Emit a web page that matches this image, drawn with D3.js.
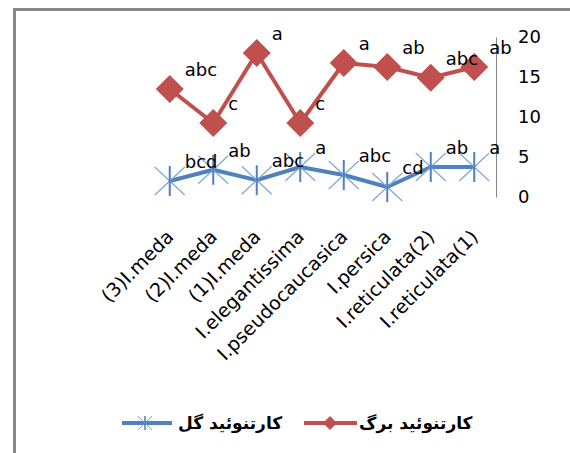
<!DOCTYPE html>
<html><head><meta charset="utf-8">
<script src="https://cdn.jsdelivr.net/npm/d3@7"></script>
<style>body{margin:0;background:#fff}svg{display:block}</style>
</head><body>
<svg id="c" width="570" height="453"></svg>
<script>
const categories = ["(3)I.meda","(2)I.meda","(1)I.meda","I.elegantissima","I.pseudocaucasica","I.persica","I.reticulata(2)","I.reticulata(1)"];
const leafValues = [13.5, 9.25, 18, 9.25, 16.75, 16.25, 14.9, 16.25];
const flowerValues = [2.0, 3.4, 2.1, 3.75, 2.75, 1.25, 3.75, 3.75];
const leafLabels = ["abc","c","a","c","a","ab","abc","ab"];
const flowerLabels = ["bcd","ab","abc","a","abc","cd","ab","a"];
const yTicks = [0,5,10,15,20];
const leafName = "کارتنوئید برگ";
const flowerName = "کارتنوئید گل";

const svg = d3.select("#c");
const font = "DejaVu Sans";
const red = "#C0504D", blue = "#4F81BD", lightBlue = "#7EA6DA";

// frame
svg.append("path").attr("d","M14.5,600 L14.5,9.5 L600,9.5").attr("fill","none").attr("stroke","#878787").attr("stroke-width",3);

const x = d3.scaleBand().domain(categories).range([148,496]);
const cx = d => x(d) + x.bandwidth()/2;
const y = d3.scaleLinear().domain([0,20]).range([197,37]);

// right axis
const ax = svg.append("g").attr("transform","translate(496,0)")
  .call(d3.axisRight(y).tickValues(yTicks).tickSize(0).tickPadding(22));
ax.select(".domain").attr("stroke","#868686").attr("stroke-width",1);
ax.selectAll("text").attr("font-family",font).attr("font-size",18).attr("fill","#000");

// x labels
svg.append("g").selectAll("text").data(categories).join("text")
  .attr("transform", d => `translate(${cx(d)+5},238) rotate(-45)`)
  .attr("text-anchor","end").attr("font-family",font).attr("font-size",19).attr("fill","#000")
  .text(d=>d);

const line = d3.line().x((d,i)=>cx(categories[i])).y(d=>y(d));

// flower series (blue)
svg.append("path").datum(flowerValues).attr("d",line).attr("fill","none")
  .attr("stroke",blue).attr("stroke-width",4).attr("stroke-linejoin","round");
const fm = svg.append("g").selectAll("g").data(flowerValues).join("g")
  .attr("transform",(d,i)=>`translate(${cx(categories[i])},${y(d)})`);
fm.append("path").attr("d","M-15,-14L15,14M-15,14L15,-14").attr("stroke",lightBlue).attr("stroke-width",1.2);
fm.append("path").attr("d","M0,-15L0,15").attr("stroke",blue).attr("stroke-width",2);

// leaf series (red)
svg.append("path").datum(leafValues).attr("d",line).attr("fill","none")
  .attr("stroke",red).attr("stroke-width",4).attr("stroke-linejoin","round");
svg.append("g").selectAll("path").data(leafValues).join("path")
  .attr("transform",(d,i)=>`translate(${cx(categories[i])},${y(d)})`)
  .attr("d","M0,-14L14,0L0,14L-14,0Z").attr("fill",red);

// data labels
function labels(vals, labs){
  svg.append("g").selectAll("text").data(vals).join("text")
    .attr("x",(d,i)=>cx(categories[i])+15).attr("y",d=>y(d)-13)
    .attr("font-family",font).attr("font-size",18).attr("fill","#000")
    .text((d,i)=>labs[i]);
}
labels(leafValues, leafLabels);
labels(flowerValues, flowerLabels);

// legend
const lg = svg.append("g");
lg.append("line").attr("x1",122).attr("x2",172).attr("y1",423).attr("y2",423).attr("stroke",blue).attr("stroke-width",4);
lg.append("path").attr("transform","translate(145,423)").attr("d","M-7,-7L7,7M-7,7L7,-7").attr("stroke",lightBlue).attr("stroke-width",1);
lg.append("path").attr("transform","translate(145,423)").attr("d","M0,-7L0,7").attr("stroke",blue).attr("stroke-width",1.5);
lg.append("text").attr("x",178).attr("y",429).attr("font-family",font).attr("font-size",17).attr("font-weight","bold").attr("direction","rtl").attr("text-anchor","end").attr("fill","#000").text(flowerName);
lg.append("line").attr("x1",304).attr("x2",357).attr("y1",423).attr("y2",423).attr("stroke",red).attr("stroke-width",4);
lg.append("path").attr("transform","translate(330,423)").attr("d","M0,-7L7,0L0,7L-7,0Z").attr("fill",red);
lg.append("text").attr("x",359).attr("y",429).attr("font-family",font).attr("font-size",17).attr("font-weight","bold").attr("direction","rtl").attr("text-anchor","end").attr("fill","#000").text(leafName);
</script>
</body></html>
